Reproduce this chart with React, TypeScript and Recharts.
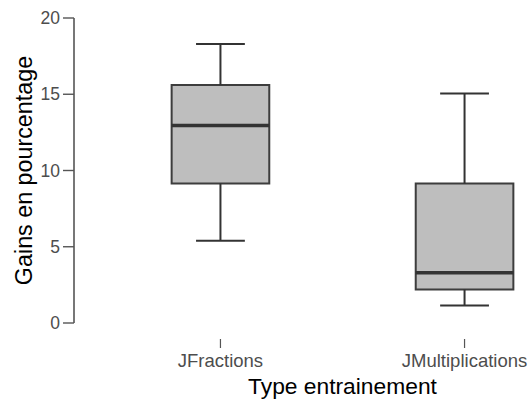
import React from 'react';
import { ComposedChart, XAxis, YAxis, Scatter, ReferenceArea, ReferenceLine } from 'recharts';

// box plot stats
const categories = ['JFractions', 'JMultiplications'];
const whiskerLow = [5.4, 1.15];
const q1 = [9.15, 2.2];
const median = [12.95, 3.3];
const q3 = [15.6, 9.15];
const whiskerHigh = [18.3, 15.05];
const yTicks = [0, 5, 10, 15, 20];

const BOX_HALF = 0.2;
const CAP_HALF = 0.1;
const LINE = '#333333';

const points = categories.map((name, i) => ({ x: i + 1, y: median[i], name }));

const XTick = (props: any) => {
    const { x, y, payload } = props;
    const label = categories[Math.round(payload.value) - 1] ?? '';
    return (
        <g>
            <line x1={x} x2={x} y1={y + 16} y2={y + 25} stroke="#555" strokeWidth={1.2} />
            <text x={x} y={y + 37} textAnchor="middle" dominantBaseline="central" fontSize={18.5} fill="#4d4d4d">
                {label}
            </text>
        </g>
    );
};

const YTitle = (props: any) => {
    const vb = props.viewBox || { x: 0, y: 18, width: 74, height: 305 };
    const cy = vb.y + vb.height / 2;
    return (
        <text x={24} y={cy} transform={`rotate(-90, 24, ${cy})`} textAnchor="middle" dominantBaseline="central" fontSize={23.3} fill="#000">
            Gains en pourcentage
        </text>
    );
};

const XTitle = (props: any) => {
    const vb = props.viewBox || { x: 74, y: 323, width: 537, height: 78 };
    const cx = vb.x + vb.width / 2;
    return (
        <text x={cx} y={386} textAnchor="middle" dominantBaseline="central" fontSize={22.8} fill="#000">
            Type entrainement
        </text>
    );
};

export default function App() {
    return (
        <div style={{ position: 'absolute', left: 0, top: 0, width: 528, height: 401, overflow: 'hidden', fontFamily: '"Liberation Sans", Arial, sans-serif' }}>
            <ComposedChart width={622} height={401} margin={{ top: 18, right: 11, bottom: 0, left: 0 }} data={points}>
                <XAxis
                    dataKey="x"
                    type="number"
                    domain={[0.4, 2.6]}
                    ticks={[1, 2]}
                    axisLine={false}
                    tickLine={false}
                    tickSize={0}
                    tickMargin={0}
                    height={78}
                    tick={<XTick />}
                    label={{ content: XTitle }}
                />
                <YAxis
                    dataKey="y"
                    type="number"
                    domain={[0, 20]}
                    ticks={yTicks}
                    width={74}
                    tickSize={11}
                    tickMargin={3}
                    axisLine={{ stroke: '#555', strokeWidth: 1.6 }}
                    tickLine={{ stroke: '#555', strokeWidth: 1.4 }}
                    tick={{ fontSize: 17.5, fill: '#4d4d4d' }}
                    label={{ content: YTitle }}
                />
                {categories.map((c, i) => (
                    <ReferenceLine
                        key={`wl-${c}`}
                        segment={[{ x: i + 1, y: whiskerLow[i] }, { x: i + 1, y: q1[i] }]}
                        stroke={LINE}
                        strokeWidth={2}
                    />
                ))}
                {categories.map((c, i) => (
                    <ReferenceLine
                        key={`wh-${c}`}
                        segment={[{ x: i + 1, y: q3[i] }, { x: i + 1, y: whiskerHigh[i] }]}
                        stroke={LINE}
                        strokeWidth={2}
                    />
                ))}
                {categories.map((c, i) => (
                    <ReferenceLine
                        key={`cl-${c}`}
                        segment={[{ x: i + 1 - CAP_HALF, y: whiskerLow[i] }, { x: i + 1 + CAP_HALF, y: whiskerLow[i] }]}
                        stroke={LINE}
                        strokeWidth={2}
                    />
                ))}
                {categories.map((c, i) => (
                    <ReferenceLine
                        key={`ch-${c}`}
                        segment={[{ x: i + 1 - CAP_HALF, y: whiskerHigh[i] }, { x: i + 1 + CAP_HALF, y: whiskerHigh[i] }]}
                        stroke={LINE}
                        strokeWidth={2}
                    />
                ))}
                {categories.map((c, i) => (
                    <ReferenceArea
                        key={`box-${c}`}
                        x1={i + 1 - BOX_HALF}
                        x2={i + 1 + BOX_HALF}
                        y1={q1[i]}
                        y2={q3[i]}
                        fill="#bebebe"
                        fillOpacity={1}
                        stroke="#3d3d3d"
                        strokeWidth={2}
                    />
                ))}
                {categories.map((c, i) => (
                    <ReferenceLine
                        key={`med-${c}`}
                        segment={[{ x: i + 1 - BOX_HALF, y: median[i] }, { x: i + 1 + BOX_HALF, y: median[i] }]}
                        stroke={LINE}
                        strokeWidth={3.5}
                    />
                ))}
                <Scatter dataKey="y" shape={() => null} isAnimationActive={false} />
            </ComposedChart>
        </div>
    );
}
